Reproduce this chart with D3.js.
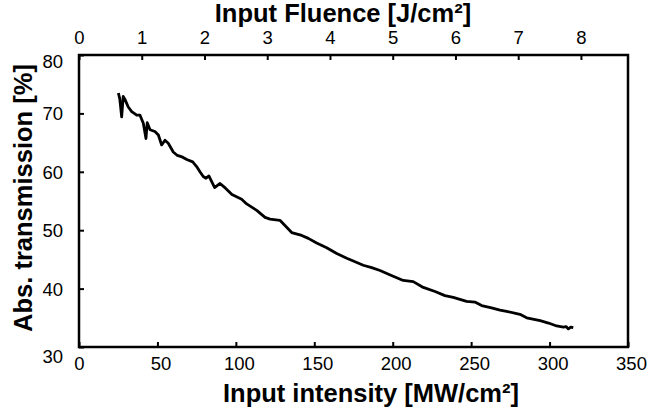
<!DOCTYPE html>
<html>
<head>
<meta charset="utf-8">
<script src="https://cdn.jsdelivr.net/npm/d3@7"></script>
<style>
  html, body { margin: 0; padding: 0; background: #fff; }
  svg { display: block; font-family: "Liberation Sans", Arial, sans-serif; }
</style>
</head>
<body>
<svg id="chart" width="663" height="410"></svg>
<script>
// ---- data ----
const intensity = [25.1, 26.0, 27.2, 28.2, 29.3, 31.4, 33.6, 36.8, 38.9, 41.0, 42.7, 43.5, 45.3, 48.4, 50.6, 52.7, 54.8, 56.9, 60.1, 62.7, 66.1, 68.7, 72.5, 75.0, 77.1, 79.2, 81.0, 82.8, 84.6, 86.5, 89.9, 93.4, 97.5, 103.7, 106.9, 113.3, 118.6, 121.8, 128.1, 135.6, 142.0, 146.2, 151.5, 157.9, 164.3, 170.7, 176.0, 181.2, 186.6, 191.9, 198.8, 206.7, 213.1, 219.5, 227.0, 233.3, 238.6, 247.1, 252.4, 256.7, 263.0, 268.4, 272.6, 281.1, 285.4, 294.0, 299.3, 304.5, 308.8, 310.5, 312.0, 313.5, 315.1];
const transmission = [73.5, 72.5, 69.4, 72.9, 72.4, 71.1, 70.3, 69.7, 69.7, 68.3, 65.7, 68.4, 67.2, 66.9, 66.3, 64.6, 65.4, 64.9, 63.4, 62.8, 62.5, 62.1, 61.7, 60.9, 60.0, 59.2, 58.9, 59.3, 58.3, 57.3, 58.0, 57.2, 56.1, 55.3, 54.5, 53.4, 52.2, 51.9, 51.7, 49.6, 49.1, 48.6, 47.8, 47.0, 46.0, 45.2, 44.6, 44.0, 43.6, 43.1, 42.3, 41.4, 41.2, 40.2, 39.5, 38.8, 38.5, 37.8, 37.7, 37.1, 36.7, 36.3, 36.1, 35.6, 35.0, 34.5, 34.1, 33.6, 33.4, 33.5, 33.1, 33.4, 33.3];
const xTicks = [0, 50, 100, 150, 200, 250, 300, 350];
const yTicks = [30, 40, 50, 60, 70, 80];
const fluenceTicks = [0, 1, 2, 3, 4, 5, 6, 7, 8];
const xTitle = "Input intensity [MW/cm²]";
const yTitle = "Abs. transmission [%]";
const topTitle = "Input Fluence [J/cm²]";
const fluencePerIntensity = 1 / 40; // J/cm² per MW/cm² (40 ns)

// ---- layout ----
const W = 663, H = 410;
const m = { left: 79, right: 35, top: 55, bottom: 63 };
const svg = d3.select("#chart");

const x = d3.scaleLinear().domain([0, 350]).range([m.left, W - m.right]);
const y = d3.scaleLinear().domain([30, 80]).range([H - m.bottom, m.top]);
const xf = d3.scaleLinear().domain([0, 350 * fluencePerIntensity]).range([m.left, W - m.right]);

function styleAxis(g) {
  g.select(".domain").remove();
  g.selectAll(".tick line").attr("stroke", "#000").attr("stroke-width", 2);
  g.selectAll(".tick text").attr("fill", "#000").style("font-size", "18.5px");
}

// bottom axis (ticks inward)
const gx = svg.append("g")
  .attr("transform", `translate(0,${H - m.bottom})`)
  .call(d3.axisBottom(x).tickValues(xTicks).tickSize(-5).tickPadding(10))
  .call(styleAxis);
gx.selectAll(".tick text").attr("dx", d => d === 0 ? 0 : 3);

// left axis (ticks inward)
const gy = svg.append("g")
  .attr("transform", `translate(${m.left},0)`)
  .call(d3.axisLeft(y).tickValues(yTicks).tickSize(-5).tickPadding(16))
  .call(styleAxis);
gy.selectAll(".tick text").attr("dy", d => d === 80 ? "0.65em" : (d === 30 ? "0.85em" : "0.35em"));

// top axis (fluence, ticks inward)
svg.append("g")
  .attr("transform", `translate(0,${m.top})`)
  .call(d3.axisTop(xf).tickValues(fluenceTicks).tickSize(-5).tickPadding(11))
  .call(styleAxis);

// frame
svg.append("rect")
  .attr("x", m.left).attr("y", m.top)
  .attr("width", W - m.left - m.right).attr("height", H - m.top - m.bottom)
  .attr("fill", "none").attr("stroke", "#000").attr("stroke-width", 2.5);

// curve
const data = intensity.map((v, i) => [v, transmission[i]]);
svg.append("path")
  .datum(data)
  .attr("fill", "none")
  .attr("stroke", "#000")
  .attr("stroke-width", 2.8)
  .attr("stroke-linejoin", "round")
  .attr("d", d3.line().x(d => x(d[0])).y(d => y(d[1])));

// titles
svg.append("text")
  .attr("x", 371).attr("y", 402)
  .attr("text-anchor", "middle")
  .style("font-size", "25.5px").style("font-weight", "bold")
  .text(xTitle);

svg.append("text")
  .attr("x", 343).attr("y", 22)
  .attr("text-anchor", "middle")
  .style("font-size", "25.5px").style("font-weight", "bold")
  .text(topTitle);

svg.append("text")
  .attr("transform", "translate(32,198) rotate(-90)")
  .attr("text-anchor", "middle")
  .style("font-size", "25.5px").style("font-weight", "bold")
  .text(yTitle);
</script>
</body>
</html>
